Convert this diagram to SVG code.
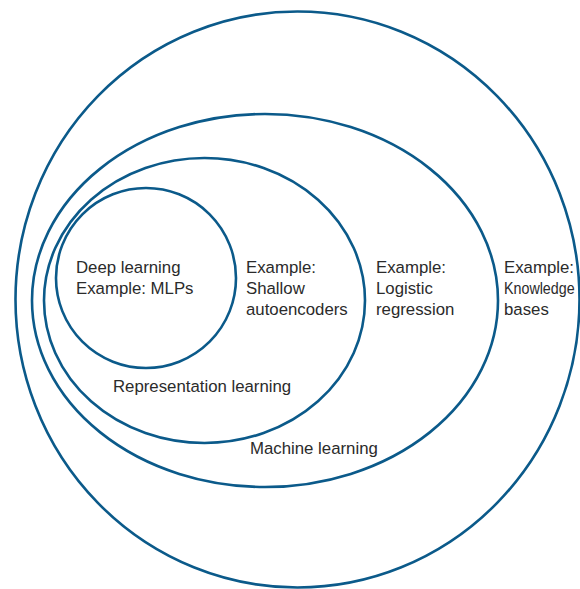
<svg xmlns="http://www.w3.org/2000/svg" width="580" height="589" viewBox="0 0 580 589">
<style>
.ring{fill:none;stroke:#0b5a8a;stroke-width:2.6}
.lbl{font-family:"Liberation Sans",Arial,sans-serif;font-size:16.8px;fill:#2b2b2b}
</style>
<rect width="580" height="589" fill="#fff"/>
<g id="ai">
<ellipse class="ring" cx="297.5" cy="299.5" rx="282" ry="288"/>
<text class="lbl" x="504" y="273">Example:</text>
<text class="lbl" transform="translate(504,294) scale(0.85,1)">Knowledge</text>
<text class="lbl" x="504" y="315">bases</text>
</g>
<g id="machine-learning">
<ellipse class="ring" cx="265" cy="300.5" rx="233" ry="186.5"/>
<text class="lbl" x="376" y="273">Example:</text>
<text class="lbl" x="376" y="294">Logistic</text>
<text class="lbl" x="376" y="315">regression</text>
<text class="lbl" x="250" y="454">Machine learning</text>
</g>
<g id="representation-learning">
<ellipse class="ring" cx="204.5" cy="300.5" rx="160.5" ry="142.5"/>
<text class="lbl" x="246" y="273">Example:</text>
<text class="lbl" x="246" y="294">Shallow</text>
<text class="lbl" x="246" y="315">autoencoders</text>
<text class="lbl" x="113" y="392">Representation learning</text>
</g>
<g id="deep-learning">
<circle class="ring" cx="146" cy="278" r="90"/>
<text class="lbl" x="76" y="273">Deep learning</text>
<text class="lbl" x="76" y="294">Example: MLPs</text>
</g>
<g id="connectors"/>
</svg>
